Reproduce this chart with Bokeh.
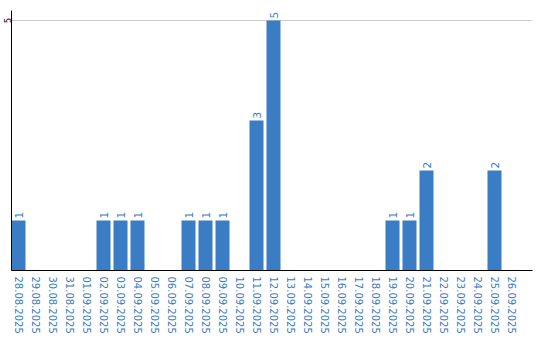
import math
from bokeh.plotting import figure
from bokeh.models import ColumnDataSource, FixedTicker, Range1d
from bokeh.core.properties import value
from bokeh.embed import file_html
from bokeh.resources import INLINE

dates = ["28.08.2025", "29.08.2025", "30.08.2025", "31.08.2025", "01.09.2025",
         "02.09.2025", "03.09.2025", "04.09.2025", "05.09.2025", "06.09.2025",
         "07.09.2025", "08.09.2025", "09.09.2025", "10.09.2025", "11.09.2025",
         "12.09.2025", "13.09.2025", "14.09.2025", "15.09.2025", "16.09.2025",
         "17.09.2025", "18.09.2025", "19.09.2025", "20.09.2025", "21.09.2025",
         "22.09.2025", "23.09.2025", "24.09.2025", "25.09.2025", "26.09.2025"]
counts = [1, 0, 0, 0, 0, 1, 1, 1, 0, 0, 1, 1, 1, 0, 3, 5, 0, 0, 0, 0,
          0, 0, 1, 1, 2, 0, 0, 0, 2, 0]
y_ticks = [5]

BLUE = "#3b7dc4"
LABEL_BLUE = "#3a7cc0"

idx = list(range(len(dates)))
src = ColumnDataSource(dict(x=idx, top=counts))
nz = [i for i, c in enumerate(counts) if c > 0]
lab = ColumnDataSource(dict(x=nz, y=[counts[i] for i in nz], t=[str(counts[i]) for i in nz]))

x0 = -7 / 17
p = figure(frame_width=521, frame_height=260, output_backend="svg",
           toolbar_location=None, x_range=Range1d(x0, x0 + 521 / 17),
           y_range=Range1d(0, 5.2), min_border_left=0, min_border_top=10,
           min_border_right=9, min_border_bottom=0)
p.outline_line_color = None
p.background_fill_color = "white"

p.vbar(x="x", top="top", width=14/17, source=src, fill_color=BLUE, line_color=None)
p.text(x="x", y="y", text="t", source=lab, angle=math.pi/2, text_align="left",
       text_baseline="middle", y_offset=-2, text_color=LABEL_BLUE,
       text_font=value("DejaVu Sans"), text_font_size="10.5px")

p.xgrid.grid_line_color = None
p.ygrid.ticker = FixedTicker(ticks=y_ticks)
p.ygrid.grid_line_color = "#cccccc"

xa = p.xaxis[0]
xa.ticker = FixedTicker(ticks=idx)
xa.major_label_overrides = {i: d for i, d in enumerate(dates)}
xa.major_label_orientation = "vertical"
xa.major_tick_line_color = None
xa.major_tick_out = 0
xa.major_tick_in = 0
xa.minor_tick_line_color = None
xa.minor_tick_out = 0
xa.axis_line_color = "black"
xa.major_label_text_color = LABEL_BLUE
xa.major_label_text_font = "DejaVu Sans"
xa.major_label_text_font_size = "10px"
xa.major_label_standoff = 6

ya = p.yaxis[0]
ya.ticker = FixedTicker(ticks=y_ticks)
ya.major_label_orientation = "parallel"
ya.major_tick_line_color = None
ya.major_tick_out = 0
ya.major_tick_in = 0
ya.minor_tick_line_color = None
ya.minor_tick_out = 0
ya.axis_line_color = "black"
ya.major_label_text_color = "black"
ya.major_label_text_font = "DejaVu Sans"
ya.major_label_text_font_size = "8px"
ya.major_label_standoff = 1

open("out.html", "w").write(file_html(p, INLINE))
